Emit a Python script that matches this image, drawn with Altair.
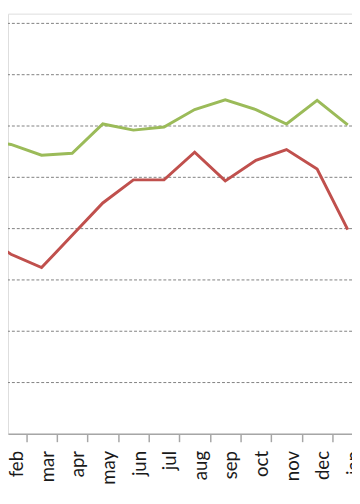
import altair as alt
import pandas as pd

# Month categories (first "jan" lies just off the left edge of the view)
months = ["jan", "feb", "mar", "apr", "may", "jun", "jul", "aug", "sep", "oct", "nov", "dec", "jan"]
green_values = [57.6, 56.4, 54.3, 54.7, 60.4, 59.2, 59.8, 63.2, 65.1, 63.2, 60.4, 65.0, 60.2]
red_values = [39.0, 35.0, 32.4, 38.7, 45.0, 49.5, 49.5, 54.9, 49.3, 53.3, 55.4, 51.6, 39.8]
grid_values = [10, 20, 30, 40, 50, 60, 70, 80]
series_names = ["green", "red"]
series_colors = ["#9BBB59", "#C0504D"]

rows = []
for i, m in enumerate(months):
    rows.append({"idx": i, "month": m, "series": "green", "value": green_values[i]})
    rows.append({"idx": i, "month": m, "series": "red", "value": red_values[i]})
df = pd.DataFrame(rows)
labels_df = pd.DataFrame({"idx": list(range(len(months))), "month": months})
grid_df = pd.DataFrame({"value": grid_values})

x_scale = alt.Scale(domain=[0.904, 12.139], nice=False, zero=False)
y_scale = alt.Scale(domain=[0, 81.9], nice=False, zero=True)
boundaries = [i + 0.5 for i in range(1, len(months) - 1)]
label_expr = "[" + ",".join("'%s'" % m for m in months) + "][round(datum.value)]"

grid = alt.Chart(grid_df).mark_rule(color="#7f7f7f", strokeWidth=1, strokeDash=[3, 2]).encode(
    y=alt.Y("value:Q", scale=y_scale, axis=None),
)

lines = alt.Chart(df).mark_line(strokeWidth=3, clip=True).encode(
    x=alt.X("idx:Q", scale=x_scale,
            axis=alt.Axis(values=boundaries, labels=False, ticks=True, tickSize=8,
                          tickColor="#a6a6a6", tickWidth=1.5, domainColor="#a6a6a6",
                          domainWidth=1.5, grid=False, title=None, orient="bottom")),
    y=alt.Y("value:Q", scale=y_scale, axis=None),
    color=alt.Color("series:N", scale=alt.Scale(domain=series_names, range=series_colors),
                    legend=None),
)

label_layer = alt.Chart(labels_df).mark_point(opacity=0, clip=True).encode(
    x=alt.X("idx:Q", scale=x_scale,
            axis=alt.Axis(values=list(range(1, len(months))), labelExpr=label_expr,
                          ticks=False, tickSize=0, domain=False, grid=False, title=None,
                          labelAngle=270, labelAlign="right", labelBaseline="middle",
                          labelPadding=17, labelOffset=6, labelFont="Lato", labelFontSize=19,
                          labelColor="#1a1a1a", labelOverlap=False, labelFlush=False,
                          labelBound=False, orient="bottom")),
    y=alt.value(0),
)

chart = alt.layer(grid, lines, label_layer).resolve_axis(x="independent").properties(
    width=352, height=430,
    autosize=alt.AutoSizeParams(type="none"),
    padding={"left": 0, "top": 0, "right": 0, "bottom": 66},
).configure_view(
    strokeWidth=0, stroke="transparent"
).configure(background="white")

chart.save("out.html", embed_options={"renderer": "svg", "actions": False})
